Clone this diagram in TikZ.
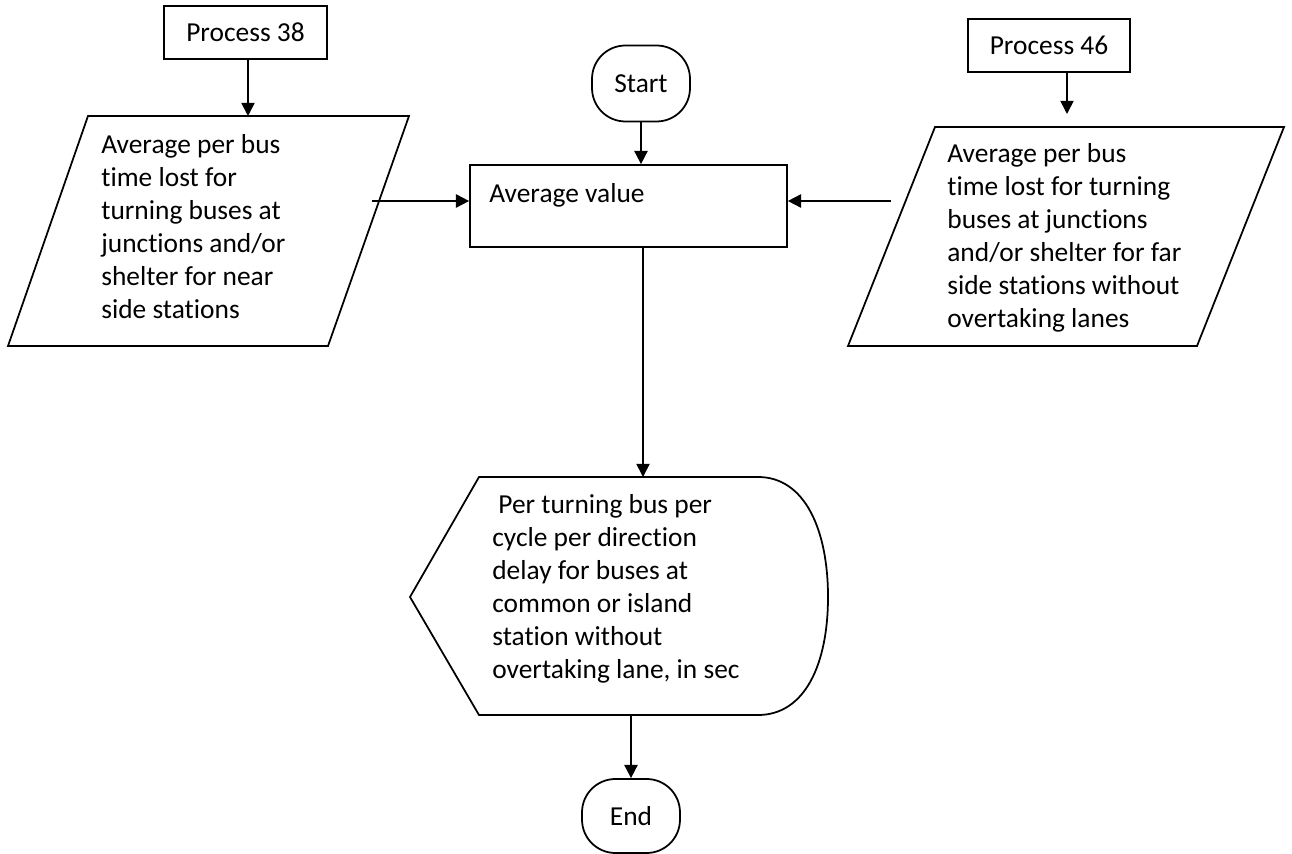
\documentclass[tikz,border=0pt]{standalone}
\usepackage{fontspec}
\setmainfont{Carlito}[RawFeature=-liga]
\usetikzlibrary{arrows.meta,positioning,calc}
\newcommand{\flowFont}{\fontsize{15.6}{18.8}\selectfont}
\tikzset{
  procBox/.style={draw, line width=1pt, minimum width=3.25cm, minimum height=1.06cm, inner sep=0pt, font=\flowFont},
  termBox/.style={draw, line width=1pt, rounded corners=19pt, minimum width=1.96cm, minimum height=1.52cm, font=\flowFont},
  flowShape/.style={draw, line width=1pt},
  flowArrow/.style={-{Triangle[length=7.5pt,width=7.5pt]}, line width=1pt},
  flowText/.style={font=\flowFont, align=left, inner sep=0pt}
}

\begin{document}
\begin{tikzpicture}[x=0.02cm,y=-0.02cm]
  \useasboundingbox (0,0) rectangle (1292,854);
  \node[procBox] (proc38) at (245.5,32.5) {Process 38};
  \node[procBox] (proc46) at (1049,45.5) {Process 46};
  \node[termBox] (start) at (641,83.5) {Start};
  \node[termBox, minimum height=1.48cm] (end) at (631,816) {End};
  \node[draw, line width=1pt, minimum width=6.34cm, minimum height=1.64cm] (avg) at (628.5,206) {};
  \node[flowText, anchor=base west] (avgText) at (489,203) {Average value};
  % input parallelograms
  \draw[flowShape] (88,116) -- (409,116) -- (328,346) -- (8,346) -- cycle;
  \node[flowText, anchor=north west] (nearText) at (101,134) {Average per bus\\time lost for\\turning buses at\\junctions and/or\\shelter for near\\side stations};
  \draw[flowShape] (935,127) -- (1284,127) -- (1197,346) -- (848,346) -- cycle;
  \node[flowText, anchor=north west] (farText) at (947,143) {Average per bus\\time lost for turning\\buses at junctions\\and/or shelter for far\\side stations without\\overtaking lanes};
  % display
  \draw[flowShape] (479,477) -- (758,477) .. controls (805,477) and (828,530) .. (828,597)
    .. controls (828,664) and (805,715) .. (758,715) -- (479,715) -- (410,597) -- cycle;
  \node[flowText, anchor=north west] (delayText) at (492,494) {\hspace{0.12cm}Per turning bus per\\cycle per direction\\delay for buses at\\common or island\\station without\\overtaking lane, in sec};

  \coordinate (nearTop) at (248,116);
  \coordinate (nearOut) at (372,201);
  \coordinate (farTop) at (1067,114);
  \coordinate (farOut) at (891,201);
  \coordinate (avgOut) at (643,247);
  \coordinate (delayTop) at (643,477);
  \coordinate (delayBot) at (631,715);

  \draw[flowArrow] (nearTop |- proc38.south) -- (nearTop);
  \draw[flowArrow] (farTop |- proc46.south) -- (farTop);
  \draw[flowArrow] (start.south) -- (start.south |- avg.north);
  \draw[flowArrow] (nearOut) -- (nearOut -| avg.west);
  \draw[flowArrow] (farOut) -- (farOut -| avg.east);
  \draw[flowArrow] (avgOut) -- (delayTop);
  \draw[flowArrow] (delayBot) -- (end.north);
\end{tikzpicture}
\end{document}
